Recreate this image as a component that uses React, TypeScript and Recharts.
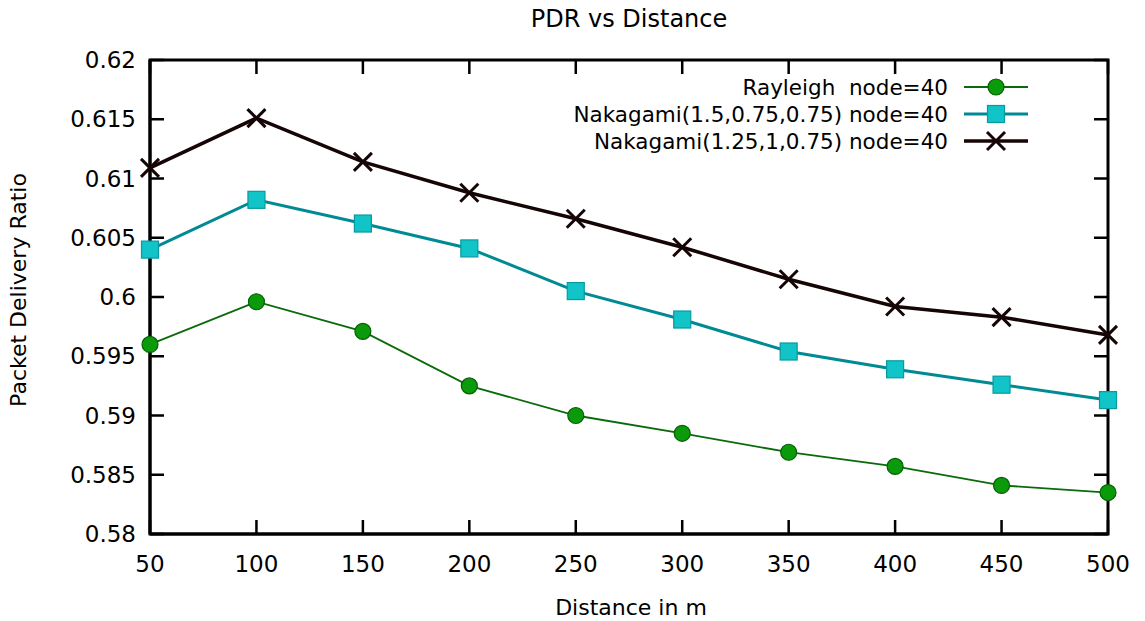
import React from "react";
import { LineChart, Line, XAxis, YAxis, Customized } from "recharts";

const distances = [50, 100, 150, 200, 250, 300, 350, 400, 450, 500];
const rayleigh = [0.596, 0.5996, 0.5971, 0.5925, 0.59, 0.5885, 0.5869, 0.5857, 0.5841, 0.5835];
const nakagami15 = [0.604, 0.6082, 0.6062, 0.6041, 0.6005, 0.5981, 0.5954, 0.5939, 0.5926, 0.5913];
const nakagami125 = [0.6109, 0.6151, 0.6114, 0.6088, 0.6066, 0.6042, 0.6015, 0.5992, 0.5983, 0.5968];
const seriesNames = [
  "Rayleigh  node=40",
  "Nakagami(1.5,0.75,0.75) node=40",
  "Nakagami(1.25,1,0.75) node=40",
];
const xTicks = [50, 100, 150, 200, 250, 300, 350, 400, 450, 500];
const yTicks = [0.58, 0.585, 0.59, 0.595, 0.6, 0.605, 0.61, 0.615, 0.62];
const yTickLabels = ["0.58", "0.585", "0.59", "0.595", "0.6", "0.605", "0.61", "0.615", "0.62"];
const xDomain = [50, 500];
const yDomain = [0.58, 0.62];

const data = distances.map((d, i) => ({
  d,
  r: rayleigh[i],
  n15: nakagami15[i],
  n125: nakagami125[i],
}));

const W = 1145;
const H = 621;
const M_TOP = 60;
const M_RIGHT = 37;
const Y_AXIS_W = 150;
const X_AXIS_H = 87;
const PLOT_W = W - Y_AXIS_W - M_RIGHT;
const PLOT_H = H - M_TOP - X_AXIS_H;

const FONT = "'DejaVu Sans', sans-serif";
const TICK = 14;

const GREEN_LINE = "#0a6a0a";
const GREEN_FILL = "#0a9a0a";
const TEAL_LINE = "#008a94";
const TEAL_FILL = "#10c4c8";
const BLACK = "#150505";

const BottomTick = (p: any) => (
  <text x={p.x} y={Number(p.y) + 38} textAnchor="middle" fontFamily={FONT} fontSize={23} fill="#000">
    {p.payload.value}
  </text>
);
const LeftTick = (p: any) => {
  const idx = yTicks.findIndex((t) => Math.abs(t - p.payload.value) < 1e-9);
  return (
    <text x={Number(p.x) - 14} y={Number(p.y) + 8} textAnchor="end" fontFamily={FONT} fontSize={23} fill="#000">
      {idx >= 0 ? yTickLabels[idx] : p.payload.value}
    </text>
  );
};

const CircleDot = (p: any) => {
  const { cx, cy, key } = p;
  if (cx == null || cy == null) return <g key={key} />;
  return <circle key={key} cx={cx} cy={cy} r={8} fill={GREEN_FILL} stroke="#056005" strokeWidth={1.2} />;
};
const SquareDot = (p: any) => {
  const { cx, cy, key } = p;
  if (cx == null || cy == null) return <g key={key} />;
  return <rect key={key} x={cx - 8.5} y={cy - 8.5} width={17} height={17} fill={TEAL_FILL} stroke="#089aa0" strokeWidth={1.2} />;
};
const CrossDot = (p: any) => {
  const { cx, cy, key } = p;
  if (cx == null || cy == null) return <g key={key} />;
  const s = 9;
  return (
    <g key={key}>
      <line x1={cx - s} y1={cy - s} x2={cx + s} y2={cy + s} stroke={BLACK} strokeWidth={3} />
      <line x1={cx - s} y1={cy + s} x2={cx + s} y2={cy - s} stroke={BLACK} strokeWidth={3} />
    </g>
  );
};

const Extras = () => {
  const left = Y_AXIS_W;
  const top = M_TOP;
  const w = PLOT_W;
  const h = PLOT_H;
  const bottom = top + h;
  const right = left + w;
  const sx = (v: number) => left + ((v - xDomain[0]) / (xDomain[1] - xDomain[0])) * w;
  const sy = (v: number) => bottom - ((v - yDomain[0]) / (yDomain[1] - yDomain[0])) * h;
  let tickPath = "";
  xTicks.forEach((t) => {
    const x = sx(t);
    tickPath += `M${x},${bottom}V${bottom - TICK}M${x},${top}V${top + TICK}`;
  });
  yTicks.forEach((t) => {
    const y = sy(t);
    tickPath += `M${left},${y}H${left + TICK}M${right},${y}H${right - TICK}`;
  });
  const legendTextX = right - 160;
  const lx1 = legendTextX + 16;
  const lx2 = legendTextX + 80;
  const rowY = [top + 27, top + 54, top + 81];
  const cy = top + h / 2 - 7;
  return (
    <g>
      <path d={tickPath} stroke="#000" strokeWidth={2.5} fill="none" />
      <rect x={left} y={top} width={w} height={h} fill="none" stroke="#000" strokeWidth={3} />
      <text x={left + w / 2} y={27} textAnchor="middle" fontFamily={FONT} fontSize={24} fill="#000">
        PDR vs Distance
      </text>
      <text x={left + w / 2 + 2} y={615} textAnchor="middle" fontFamily={FONT} fontSize={22} fill="#000">
        Distance in m
      </text>
      <text
        x={26}
        y={cy}
        textAnchor="middle"
        fontFamily={FONT}
        fontSize={22}
        fill="#000"
        transform={`rotate(-90, 26, ${cy})`}
      >
        Packet Delivery Ratio
      </text>
      {seriesNames.map((n, i) => (
        <text
          key={n}
          x={legendTextX}
          y={rowY[i] + 8}
          textAnchor="end"
          fontFamily={FONT}
          fontSize={21.5}
          fill="#000"
          xmlSpace="preserve"
          style={{ whiteSpace: "pre" }}
        >
          {n}
        </text>
      ))}
      <line x1={lx1} x2={lx2} y1={rowY[0]} y2={rowY[0]} stroke={GREEN_LINE} strokeWidth={1.8} />
      <circle cx={(lx1 + lx2) / 2} cy={rowY[0]} r={8} fill={GREEN_FILL} stroke="#056005" strokeWidth={1.2} />
      <line x1={lx1} x2={lx2} y1={rowY[1]} y2={rowY[1]} stroke={TEAL_LINE} strokeWidth={3} />
      <rect x={(lx1 + lx2) / 2 - 8.5} y={rowY[1] - 8.5} width={17} height={17} fill={TEAL_FILL} stroke="#089aa0" strokeWidth={1.2} />
      <line x1={lx1} x2={lx2} y1={rowY[2]} y2={rowY[2]} stroke={BLACK} strokeWidth={3.5} />
      <line x1={(lx1 + lx2) / 2 - 9} y1={rowY[2] - 9} x2={(lx1 + lx2) / 2 + 9} y2={rowY[2] + 9} stroke={BLACK} strokeWidth={3} />
      <line x1={(lx1 + lx2) / 2 - 9} y1={rowY[2] + 9} x2={(lx1 + lx2) / 2 + 9} y2={rowY[2] - 9} stroke={BLACK} strokeWidth={3} />
    </g>
  );
};

export default function App() {
  return (
    <div style={{ position: "absolute", left: 0, top: 0, width: W, height: H, background: "#fff" }}>
      <LineChart width={W} height={H} data={data} margin={{ top: M_TOP, right: M_RIGHT, bottom: 0, left: 0 }}>
        <XAxis
          dataKey="d"
          type="number"
          domain={xDomain}
          ticks={xTicks}
          height={X_AXIS_H}
          tickLine={false}
          tickSize={0}
          tickMargin={0}
          axisLine={{ stroke: "#000", strokeWidth: 3 }}
          tick={BottomTick}
          interval={0}
        />
        <YAxis
          type="number"
          domain={yDomain}
          ticks={yTicks}
          width={Y_AXIS_W}
          tickLine={false}
          tickSize={0}
          tickMargin={0}
          axisLine={{ stroke: "#000", strokeWidth: 3 }}
          tick={LeftTick}
          interval={0}
          allowDataOverflow
        />
        <Line
          dataKey="r"
          name={seriesNames[0]}
          stroke={GREEN_LINE}
          strokeWidth={1.8}
          dot={CircleDot}
          isAnimationActive={false}
        />
        <Line
          dataKey="n15"
          name={seriesNames[1]}
          stroke={TEAL_LINE}
          strokeWidth={3}
          dot={SquareDot}
          isAnimationActive={false}
        />
        <Line
          dataKey="n125"
          name={seriesNames[2]}
          stroke={BLACK}
          strokeWidth={3.5}
          dot={CrossDot}
          isAnimationActive={false}
        />
        <Customized component={Extras} />
      </LineChart>
    </div>
  );
}
